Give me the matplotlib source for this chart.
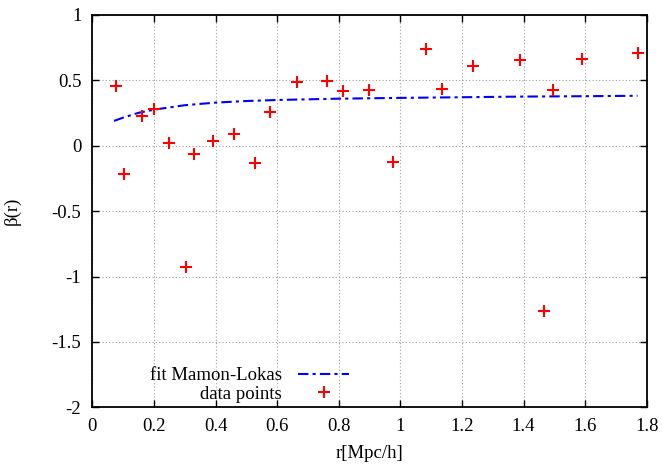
import matplotlib
matplotlib.use("Agg")
import matplotlib.pyplot as plt

plt.rcParams['font.family'] = ['Liberation Serif', 'DejaVu Serif']

# data points
r_data = [0.076, 0.104, 0.160, 0.200, 0.249, 0.303, 0.331, 0.390, 0.460, 0.529,
          0.576, 0.665, 0.762, 0.814, 0.899, 0.975, 1.083, 1.134, 1.236, 1.387,
          1.466, 1.494, 1.589, 1.770]
beta_data = [0.459, -0.219, 0.227, 0.278, 0.018, -0.927, -0.061, 0.036, 0.087, -0.135,
             0.255, 0.487, 0.497, 0.416, 0.428, -0.125, 0.737, 0.431, 0.607, 0.657,
             -1.266, 0.423, 0.663, 0.709]

# fit curve
r_fit = [0.07, 0.1, 0.15, 0.2, 0.3, 0.4, 0.5, 0.6, 0.8, 1.0, 1.2, 1.4, 1.6, 1.77]
beta_fit = [0.19, 0.215, 0.252, 0.276, 0.31, 0.33, 0.342, 0.35, 0.36, 0.366,
            0.371, 0.376, 0.379, 0.382]

x_ticks = [0, 0.2, 0.4, 0.6, 0.8, 1, 1.2, 1.4, 1.6, 1.8]
x_labels = ["0", "0.2", "0.4", "0.6", "0.8", "1", "1.2", "1.4", "1.6", "1.8"]
y_ticks = [-2, -1.5, -1, -0.5, 0, 0.5, 1]
y_labels = ["-2", "-1.5", "-1", "-0.5", "0", "0.5", "1"]

fs = 13.5

fig = plt.figure(figsize=(6.62, 4.68), dpi=100)
ax = fig.add_axes([0.1396, 0.1297, 0.8374, 0.8383])

ax.plot(r_fit, beta_fit, color='#0000ff', lw=1.5, dashes=(5, 2, 1.5, 2),
        label='fit Mamon-Lokas')
ax.plot(r_data, beta_data, ls='none', marker='+', color='#ff0000', ms=8, mew=1.5,
        label='data points')

ax.set_xlim(0, 1.8)
ax.set_ylim(-2, 1)
ax.set_xticks(x_ticks)
ax.set_xticklabels(x_labels)
ax.set_yticks(y_ticks)
ax.set_yticklabels(y_labels)
ax.tick_params(direction='in', top=True, right=True, length=5, width=1,
               labelsize=fs, pad=8)
ax.grid(True, linestyle=(0, (1, 2)), color='#a0a0a0', lw=0.8)
for s in ax.spines.values():
    s.set_linewidth(1.3)

ax.set_xlabel('r[Mpc/h]', fontsize=fs, labelpad=7)
ax.set_ylabel('β(r)', fontsize=fs, labelpad=22)

ax.legend(loc='lower right', bbox_to_anchor=(0.49, -0.026), frameon=False,
          markerfirst=False, fontsize=fs, handlelength=2.7, handletextpad=0.9,
          labelspacing=0.05, borderpad=0.3)

fig.savefig('out.png', dpi=100)
